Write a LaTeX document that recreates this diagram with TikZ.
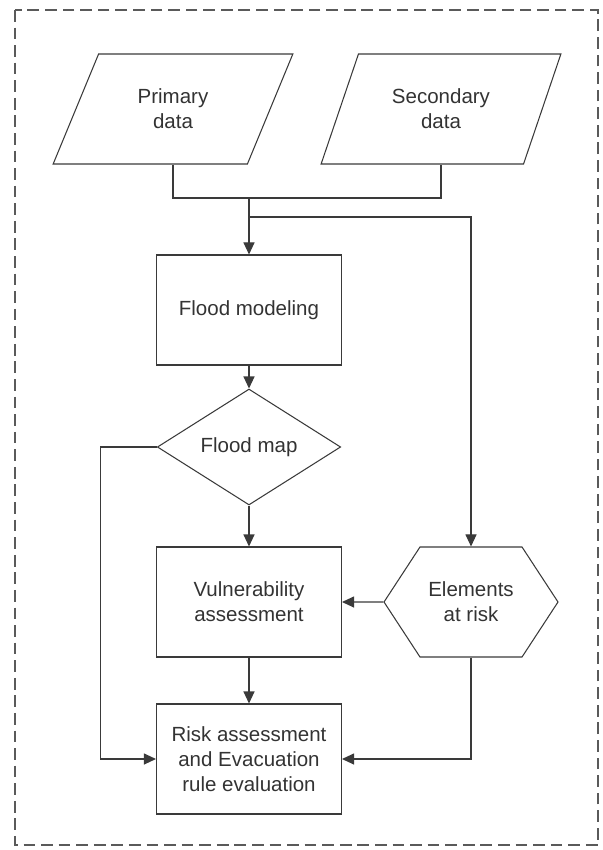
\documentclass[tikz,border=0pt]{standalone}
\usepackage{fontspec}
\setmainfont{Liberation Sans}
\usetikzlibrary{shapes,arrows.meta,positioning,calc}
\definecolor{linegray}{HTML}{3A3A3A}
\definecolor{textgray}{HTML}{333333}
\definecolor{framegray}{HTML}{5A5A5A}

\begin{document}
\begin{tikzpicture}[x=0.03cm, y=-0.03cm,
    every node/.style={font=\fontsize{17.5}{21.3}\selectfont, text=textgray, align=center},
    procbox/.style={draw=linegray, line width=0.9pt, minimum width=5.55cm, minimum height=3.3cm},
    databox/.style={draw=linegray, line width=0.9pt, trapezium, trapezium left angle=63.4, trapezium right angle=116.6, trapezium stretches=true, minimum width=7.2cm, minimum height=3.3cm},
    mapdia/.style={draw=linegray, line width=0.9pt, diamond, inner sep=0pt, minimum width=5.5cm, minimum height=3.27cm},
    riskhex/.style={draw=linegray, line width=0.9pt, signal, signal to=east and west, signal pointer angle=113.6, minimum width=5.22cm, minimum height=3.3cm},
    link/.style={draw=linegray, line width=0.9pt, -{Triangle[length=0.36cm,width=0.33cm]}}]
    \useasboundingbox (0,0) rectangle (602,850);
    \draw[framegray, line width=1pt, dash pattern=on 10pt off 5pt] (15,10) rectangle (598,845);
    % inputs
    \node[databox] (prim) at (173,109) {Primary\\data};
    \node[databox] (sec) at (441,109) {Secondary\\data};
    % main column
    \node[procbox] (model) at (249,310) {Flood modeling};
    \node[mapdia] (fmap) at (249,447) {Flood map};
    \node[procbox] (vuln) at (249,602) {Vulnerability\\assessment};
    \node[riskhex] (elem) at (471,602) {Elements\\at risk};
    \node[procbox] (risk) at (249,759) {Risk assessment\\and Evacuation\\rule evaluation};
    \coordinate (join) at (249,198);
    \coordinate (split) at (249,217);
    \draw[draw=linegray, line width=0.9pt] (prim.south) |- (join) -| (sec.south);
    \draw[link] (join) -- (model);
    \draw[link] (split) -| (elem);
    \draw[link] (model) -- (fmap);
    \draw[link] (fmap) -- (vuln);
    \draw[link] (elem) -- (vuln);
    \draw[link] (vuln) -- (risk);
    \draw[link] (fmap.west) -- ++(-56,0) |- (risk);
    \draw[link] (elem) |- (risk);
\end{tikzpicture}
\end{document}
